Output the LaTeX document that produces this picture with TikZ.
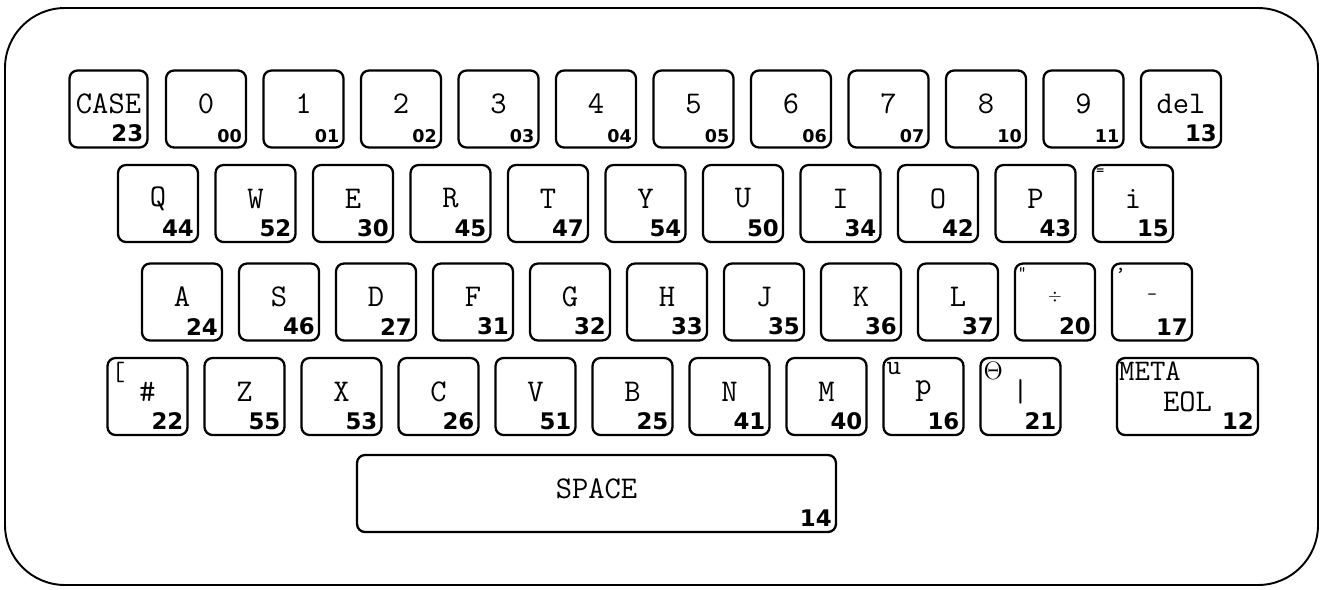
\documentclass[tikz,border=0pt]{standalone}
\usepackage{fontspec}
\newfontfamily\codefont{DejaVu Sans}
\begin{document}
\begin{tikzpicture}[x=0.02cm,y=-0.02cm]
            \tikzstyle{keybox}=[draw, line width=1.3pt, rounded corners=0.16cm, minimum width=1.6cm, minimum height=1.54cm, inner sep=0pt]
            \tikzstyle{glyph}=[font=\ttfamily\fontsize{18}{18}\selectfont, inner sep=0pt, yshift=0.1cm]
            \tikzstyle{cornermark}=[font=\ttfamily\fontsize{12}{12}\selectfont, anchor=north west, inner sep=0pt, xshift=0.08cm, yshift=-0.1cm]
            \tikzstyle{code}=[font=\codefont\bfseries\fontsize{13}{13}\selectfont, anchor=south east, inner sep=0pt, xshift=-0.1cm, yshift=0.12cm]
            \tikzstyle{smallcode}=[code, font=\codefont\bfseries\fontsize{10}{10}\selectfont]
            \useasboundingbox (0,0) rectangle (1325,589);
            \draw [line width=1.1pt, rounded corners=1.2cm] (5,8) rectangle (1318,585);
            % top row
            \node [keybox, minimum width=1.56cm] (kcase) at (108.5,109) {}; \node [glyph] at (kcase) {CASE}; \node [code] at (kcase.south east) {23};
            \node [keybox] (k0) at (206,109) {}; \node [glyph] at (k0) {0}; \node [smallcode] at (k0.south east) {00};
            \node [keybox] (k1) at (303.5,109) {}; \node [glyph] at (k1) {1}; \node [smallcode] at (k1.south east) {01};
            \node [keybox] (k2) at (401,109) {}; \node [glyph] at (k2) {2}; \node [smallcode] at (k2.south east) {02};
            \node [keybox] (k3) at (498.5,109) {}; \node [glyph] at (k3) {3}; \node [smallcode] at (k3.south east) {03};
            \node [keybox] (k4) at (596,109) {}; \node [glyph] at (k4) {4}; \node [smallcode] at (k4.south east) {04};
            \node [keybox] (k5) at (693.5,109) {}; \node [glyph] at (k5) {5}; \node [smallcode] at (k5.south east) {05};
            \node [keybox] (k6) at (791,109) {}; \node [glyph] at (k6) {6}; \node [smallcode] at (k6.south east) {06};
            \node [keybox] (k7) at (888.5,109) {}; \node [glyph] at (k7) {7}; \node [smallcode] at (k7.south east) {07};
            \node [keybox] (k8) at (986,109) {}; \node [glyph] at (k8) {8}; \node [smallcode] at (k8.south east) {10};
            \node [keybox] (k9) at (1083.5,109) {}; \node [glyph] at (k9) {9}; \node [smallcode] at (k9.south east) {11};
            \node [keybox] (kdel) at (1181,109) {}; \node [glyph] at (kdel) {del}; \node [code] at (kdel.south east) {13};
            % second row
            \node [keybox] (kq) at (158,203.5) {}; \node [glyph] at (kq) {Q}; \node [code] at (kq.south east) {44};
            \node [keybox] (kw) at (255.5,203.5) {}; \node [glyph] at (kw) {W}; \node [code] at (kw.south east) {52};
            \node [keybox] (ke) at (353,203.5) {}; \node [glyph] at (ke) {E}; \node [code] at (ke.south east) {30};
            \node [keybox] (kr) at (450.5,203.5) {}; \node [glyph] at (kr) {R}; \node [code] at (kr.south east) {45};
            \node [keybox] (kt) at (548,203.5) {}; \node [glyph] at (kt) {T}; \node [code] at (kt.south east) {47};
            \node [keybox] (ky) at (645.5,203.5) {}; \node [glyph] at (ky) {Y}; \node [code] at (ky.south east) {54};
            \node [keybox] (ku) at (743,203.5) {}; \node [glyph] at (ku) {U}; \node [code] at (ku.south east) {50};
            \node [keybox] (ki) at (840.5,203.5) {}; \node [glyph] at (ki) {I}; \node [code] at (ki.south east) {34};
            \node [keybox] (ko) at (938,203.5) {}; \node [glyph] at (ko) {O}; \node [code] at (ko.south east) {42};
            \node [keybox] (kp) at (1035.5,203.5) {}; \node [glyph] at (kp) {P}; \node [code] at (kp.south east) {43};
            \node [keybox] (kbar) at (1133,203.5) {}; \node [glyph] at (kbar) {i}; \node [cornermark, font=\ttfamily\fontsize{9}{9}\selectfont] at (kbar.north west) {=}; \node [code] at (kbar.south east) {15};
            % third row
            \node [keybox] (ka) at (182,302) {}; \node [glyph] at (ka) {A}; \node [code] at (ka.south east) {24};
            \node [keybox] (ks) at (279,302) {}; \node [glyph] at (ks) {S}; \node [code] at (ks.south east) {46};
            \node [keybox] (kd) at (376,302) {}; \node [glyph] at (kd) {D}; \node [code] at (kd.south east) {27};
            \node [keybox] (kf) at (473,302) {}; \node [glyph] at (kf) {F}; \node [code] at (kf.south east) {31};
            \node [keybox] (kg) at (570,302) {}; \node [glyph] at (kg) {G}; \node [code] at (kg.south east) {32};
            \node [keybox] (kh) at (667,302) {}; \node [glyph] at (kh) {H}; \node [code] at (kh.south east) {33};
            \node [keybox] (kj) at (764,302) {}; \node [glyph] at (kj) {J}; \node [code] at (kj.south east) {35};
            \node [keybox] (kk) at (861,302) {}; \node [glyph] at (kk) {K}; \node [code] at (kk.south east) {36};
            \node [keybox] (kl) at (958,302) {}; \node [glyph] at (kl) {L}; \node [code] at (kl.south east) {37};
            \node [keybox] (kdiv) at (1055,302) {}; \node [glyph, font=\fontsize{10}{10}\selectfont] at (kdiv) {$\div$}; \node [cornermark, font=\ttfamily\fontsize{9}{9}\selectfont] at (kdiv.north west) {"}; \node [code] at (kdiv.south east) {20};
            \node [keybox] (kminus) at (1152,302) {}; \node [glyph, font=\ttfamily\fontsize{11}{11}\selectfont] at (kminus) {-}; \node [cornermark] at (kminus.north west) {,}; \node [code] at (kminus.south east) {17};
            % fourth row
            \node [keybox] (khash) at (147.5,396.5) {}; \node [glyph] at (khash) {\#}; \node [cornermark, font=\ttfamily\fontsize{15}{15}\selectfont, xshift=0.02cm] at (khash.north west) {[}; \node [code] at (khash.south east) {22};
            \node [keybox] (kz) at (244.5,396.5) {}; \node [glyph] at (kz) {Z}; \node [code] at (kz.south east) {55};
            \node [keybox] (kx) at (341.5,396.5) {}; \node [glyph] at (kx) {X}; \node [code] at (kx.south east) {53};
            \node [keybox] (kc) at (438.5,396.5) {}; \node [glyph] at (kc) {C}; \node [code] at (kc.south east) {26};
            \node [keybox] (kv) at (535.5,396.5) {}; \node [glyph] at (kv) {V}; \node [code] at (kv.south east) {51};
            \node [keybox] (kb) at (632.5,396.5) {}; \node [glyph] at (kb) {B}; \node [code] at (kb.south east) {25};
            \node [keybox] (kn) at (729.5,396.5) {}; \node [glyph] at (kn) {N}; \node [code] at (kn.south east) {41};
            \node [keybox] (km) at (826.5,396.5) {}; \node [glyph] at (km) {M}; \node [code] at (km.south east) {40};
            \node [keybox] (kup) at (923.5,396.5) {}; \node [glyph] at (kup) {p}; \node [cornermark, font=\ttfamily\fontsize{16}{16}\selectfont] at (kup.north west) {u}; \node [code] at (kup.south east) {16};
            \node [keybox] (kpipe) at (1020.5,396.5) {}; \node [glyph] at (kpipe) {|}; \node [cornermark, font=\fontsize{14}{14}\selectfont] at (kpipe.north west) {$\Theta$}; \node [code] at (kpipe.south east) {21};
            \node [keybox, minimum width=2.82cm] (keol) at (1187.5,396.5) {}; \node [cornermark, font=\ttfamily\fontsize{17}{17}\selectfont, xshift=-0.02cm] at (keol.north west) {META}; \node [glyph, yshift=-0.2cm] at (keol) {EOL}; \node [code] at (keol.south east) {12};
            % space bar
            \node [keybox, minimum width=9.58cm] (kspace) at (596.5,493.5) {}; \node [glyph] at (kspace) {SPACE}; \node [code] at (kspace.south east) {14};
\end{tikzpicture}
\end{document}
